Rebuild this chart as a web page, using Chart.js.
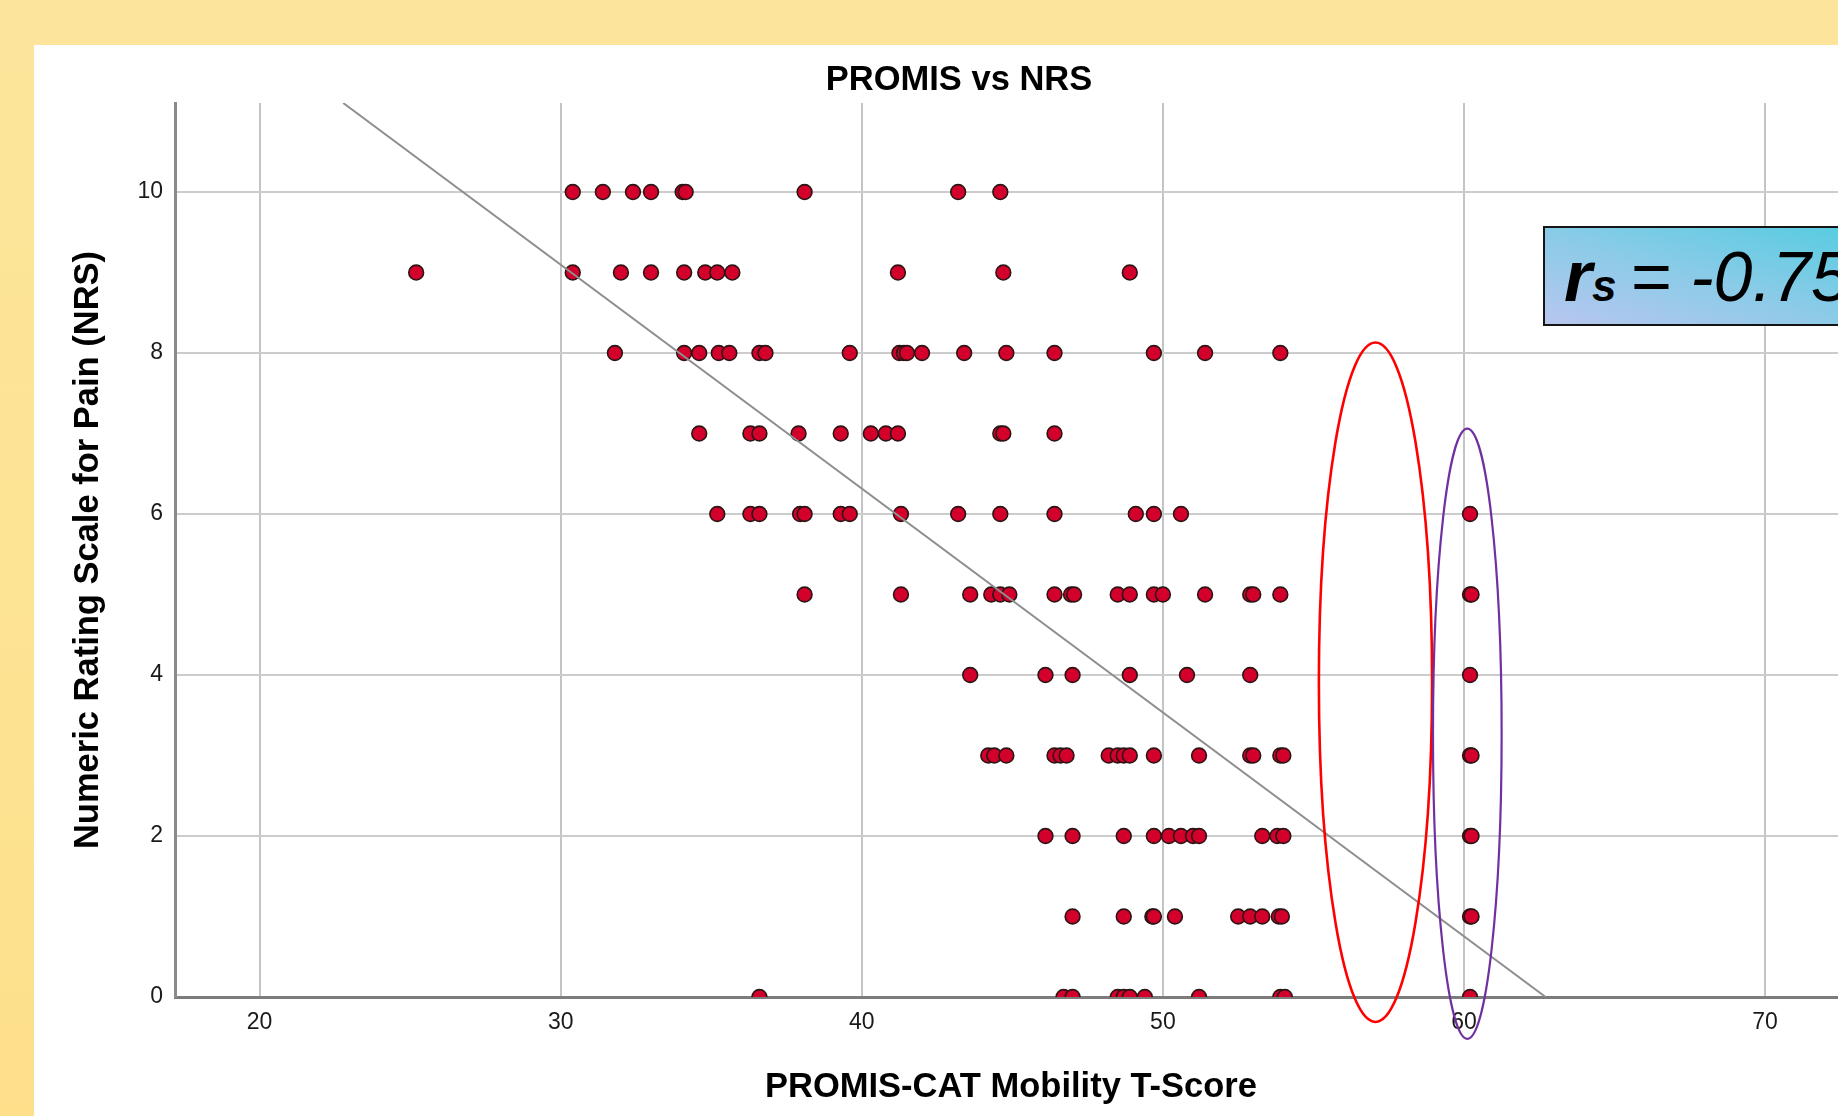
<!DOCTYPE html>
<html>
<head>
<meta charset="utf-8">
<title>PROMIS vs NRS</title>
<script src="https://cdn.jsdelivr.net/npm/chart.js@4.4.1/dist/chart.umd.min.js"></script>
<style>
  html, body {
    margin: 0; padding: 0; width: 1838px; height: 1116px; overflow: hidden;
    background: linear-gradient(to bottom, #fce59b 0%, #fde291 70%, #fedf8a 100%);
  }
  #panel { position: absolute; left: 34px; top: 45px; width: 1804px; height: 1071px; background: #ffffff; }
  #chart { position: absolute; left: 71px; top: 45px; }
  #rs {
    position: absolute; left: 1543px; top: 226px; width: 340px; height: 100px;
    box-sizing: border-box; border: 2px solid #151515;
    background: linear-gradient(to top right, #b8c6ef 0%, #8dcbe8 45%, #52cce0 100%);
    font-family: 'Liberation Sans', Arial, sans-serif; color: #000;
  }
  #rs .txt {
    position: absolute; left: 19px; top: 12px; white-space: nowrap;
    font-size: 72px; line-height: 72px; font-style: italic;
  }
  #rs .r { font-weight: bold; }
  #rs .s { font-weight: bold; font-size: 44px; }
  #rs .val { font-weight: normal; font-size: 70px; margin-left: -6px; }
</style>
</head>
<body>
<div id="panel"></div>
<canvas id="chart" width="1776" height="1071"></canvas>
<div id="rs"><div class="txt"><span class="r">r</span><span class="s">s</span><span class="val"> = -0.75</span></div></div>

<script>
// PROMIS-CAT Mobility T-score and NRS pain rating for each patient, listed by NRS level.
const mobilityT = [
  // NRS 10
  30.4, 31.4, 32.4, 33.0, 34.05, 34.15, 38.1, 43.2, 44.6,
  // NRS 9
  25.2, 30.4, 32.0, 33.0, 34.1, 34.8, 35.2, 35.7, 41.2, 44.7, 48.9,
  // NRS 8
  31.8, 34.1, 34.6, 35.25, 35.6, 36.6, 36.8, 39.6, 41.25, 41.4, 41.5, 42.0, 43.4, 44.8, 46.4, 49.7, 51.4, 53.9,
  // NRS 7
  34.6, 36.3, 36.6, 37.9, 39.3, 40.3, 40.8, 41.2, 44.6, 44.7, 46.4,
  // NRS 6
  35.2, 36.3, 36.6, 37.95, 38.1, 39.3, 39.6, 41.3, 43.2, 44.6, 46.4, 49.1, 49.7, 50.6, 60.2,
  // NRS 5
  38.1, 41.3, 43.6, 44.3, 44.6, 44.9, 46.4, 46.95, 47.05, 48.5, 48.9, 49.7, 50.0, 51.4, 52.9, 53.0, 53.9, 60.2, 60.25,
  // NRS 4
  43.6, 46.1, 47.0, 48.9, 50.8, 52.9, 60.2,
  // NRS 3
  44.2, 44.4, 44.8, 46.4, 46.6, 46.8, 48.2, 48.5, 48.7, 48.9, 49.7, 51.2, 52.9, 53.0, 53.9, 54.0, 60.2, 60.25,
  // NRS 2
  46.1, 47.0, 48.7, 49.7, 50.2, 50.6, 51.0, 51.2, 53.3, 53.8, 54.0, 60.2, 60.25,
  // NRS 1
  47.0, 48.7, 49.65, 49.7, 50.4, 52.5, 52.9, 53.3, 53.85, 53.95, 60.2, 60.25,
  // NRS 0
  36.6, 46.7, 47.0, 48.5, 48.7, 48.9, 49.4, 51.2, 53.9, 54.05, 60.2
];
const painNRS = [
  10, 10, 10, 10, 10, 10, 10, 10, 10,
  9, 9, 9, 9, 9, 9, 9, 9, 9, 9, 9,
  8, 8, 8, 8, 8, 8, 8, 8, 8, 8, 8, 8, 8, 8, 8, 8, 8, 8,
  7, 7, 7, 7, 7, 7, 7, 7, 7, 7, 7,
  6, 6, 6, 6, 6, 6, 6, 6, 6, 6, 6, 6, 6, 6, 6,
  5, 5, 5, 5, 5, 5, 5, 5, 5, 5, 5, 5, 5, 5, 5, 5, 5, 5, 5,
  4, 4, 4, 4, 4, 4, 4,
  3, 3, 3, 3, 3, 3, 3, 3, 3, 3, 3, 3, 3, 3, 3, 3, 3, 3,
  2, 2, 2, 2, 2, 2, 2, 2, 2, 2, 2, 2, 2,
  1, 1, 1, 1, 1, 1, 1, 1, 1, 1, 1, 1,
  0, 0, 0, 0, 0, 0, 0, 0, 0, 0, 0
];

// Axis ticks and ranges
const xTickValues = [20, 30, 40, 50, 60, 70];
const yTickValues = [0, 2, 4, 6, 8, 10];
const xRange = [17.19, 72.72];
const yRange = [0, 11.106];

// Linear fit line: NRS = intercept + slope * T
const fitIntercept = 17.44;
const fitSlope = -0.2781;

// Highlight rings, in data units: [centerT, centerNRS, radiusT, radiusNRS]
const highlightRings = [
  { shape: [57.06, 3.91, 1.88, 4.22], color: '#ff0000', width: 2.6 },
  { shape: [60.11, 3.27, 1.14, 3.79], color: '#7030a0', width: 2.2 }
];

const FONT = "'Liberation Sans', Arial, Helvetica, sans-serif";

const points = mobilityT.map((t, i) => ({ x: t, y: painNRS[i] }));
const fitLine = [yRange[1], 0].map(v => ({ x: (v - fitIntercept) / fitSlope, y: v }));

const ringPlugin = {
  id: 'rings',
  afterDraw(chart) {
    const { ctx, scales: { x, y } } = chart;
    ctx.save();
    highlightRings.forEach(r => {
      const [cx, cy, rx, ry] = r.shape;
      const px = x.getPixelForValue(cx);
      const py = y.getPixelForValue(cy);
      const prx = Math.abs(x.getPixelForValue(cx + rx) - px);
      const pry = Math.abs(y.getPixelForValue(cy + ry) - py);
      ctx.beginPath();
      ctx.ellipse(px, py, prx, pry, 0, 0, Math.PI * 2);
      ctx.strokeStyle = r.color;
      ctx.lineWidth = r.width;
      ctx.stroke();
    });
    ctx.restore();
  }
};

new Chart(document.getElementById('chart'), {
  type: 'scatter',
  data: {
    datasets: [
      {
        label: 'Fit',
        data: fitLine,
        showLine: true,
        borderColor: '#8e8e8e',
        borderWidth: 2,
        pointRadius: 0,
        order: 0
      },
      {
        label: 'Patients',
        data: points,
        pointRadius: 7.4,
        pointBorderWidth: 1.6,
        pointBackgroundColor: '#d2002b',
        pointBorderColor: '#2b1414',
        order: 1
      }
    ]
  },
  options: {
    responsive: false,
    animation: false,
    devicePixelRatio: 1,
    events: [],
    layout: { padding: 0, autoPadding: false },
    plugins: {
      legend: { display: false },
      tooltip: { enabled: false },
      title: {
        display: true,
        text: 'PROMIS vs NRS',
        color: '#000',
        font: { family: FONT, size: 34.5, weight: 'bold', lineHeight: 1.2 },
        padding: { top: 14.3, bottom: 2.3 }
      }
    },
    scales: {
      x: {
        type: 'linear',
        min: xRange[0],
        max: xRange[1],
        afterBuildTicks: s => { s.ticks = xTickValues.map(v => ({ value: v })); },
        afterFit: s => { s.height = 119; },
        grid: { color: '#c4c4c4', lineWidth: 2, drawTicks: false },
        border: { display: true, color: '#7c7c7c', width: 3 },
        ticks: { padding: 12, color: '#1a1a1a', autoSkip: false, maxRotation: 0,
                 font: { family: FONT, size: 23 } },
        title: {
          display: true,
          text: 'PROMIS-CAT Mobility T-Score',
          color: '#000',
          font: { family: FONT, size: 34.5, weight: 'bold', lineHeight: 1.2 },
          padding: { top: 0, bottom: 8.3 }
        }
      },
      y: {
        type: 'linear',
        min: yRange[0],
        max: yRange[1],
        afterBuildTicks: s => { s.ticks = yTickValues.map(v => ({ value: v })); },
        afterFit: s => { s.width = 104; },
        grid: { color: '#cccccc', lineWidth: 2, drawTicks: false },
        border: { display: true, color: '#8a8a8a', width: 3 },
        ticks: { padding: 12, color: '#1a1a1a', autoSkip: false,
                 font: { family: FONT, size: 23 } },
        title: {
          display: true,
          text: 'Numeric Rating Scale for Pain (NRS)',
          color: '#000',
          font: { family: FONT, size: 34.5, weight: 'bold', lineHeight: 1.0 },
          padding: { top: 0.5, bottom: 0 }
        }
      }
    }
  },
  plugins: [ringPlugin]
});
</script>
</body>
</html>
